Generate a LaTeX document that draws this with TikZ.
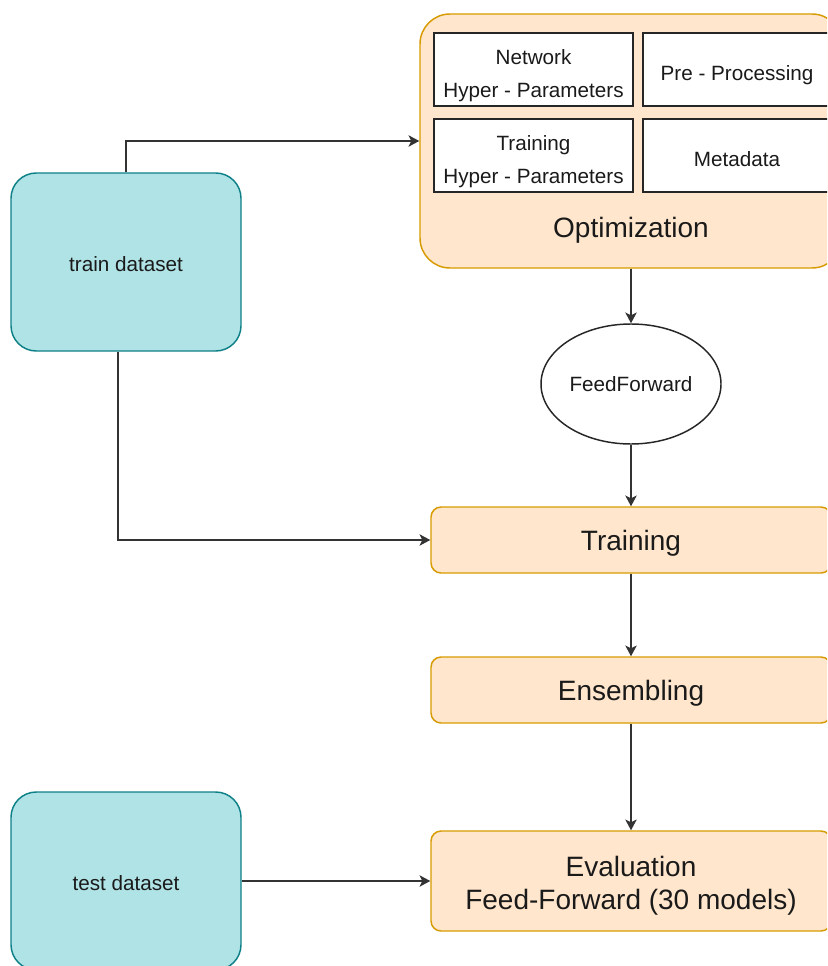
\documentclass[tikz,border=0pt]{standalone}
\usepackage{fontspec}
\setmainfont{Liberation Sans}
\usepackage{xcolor}
\usetikzlibrary{arrows.meta, shapes.geometric}
\definecolor{orangefill}{HTML}{FFE6CC}
\definecolor{orangeline}{HTML}{D79B00}
\definecolor{tealfill}{HTML}{B0E3E6}
\definecolor{tealline}{HTML}{0E8088}
\definecolor{txt}{HTML}{1A1A1A}

\begin{document}
\begin{tikzpicture}[x=0.75pt, y=-0.75pt, >={Stealth[length=8pt, width=8.5pt, inset=2pt]},
    small/.style={font=\fontsize{15.5}{24.8}\selectfont, text=txt, align=center},
    big/.style={font=\fontsize{21}{24.8}\selectfont, text=txt, align=center},
    databox/.style={small, draw=tealline, fill=tealfill, line width=1.1pt, rounded corners=19pt, minimum width=172.5pt, minimum height=133.5pt, text height=14.3pt, text depth=0pt},
    stepbox/.style={big, draw=orangeline, fill=orangefill, line width=1.1pt, rounded corners=7.5pt, minimum width=300pt, inner sep=0pt, text height=19.8pt, text depth=4.4pt},
    parambox/.style={small, draw=black!85, fill=white, line width=1.1pt, minimum height=54.75pt, inner sep=0pt, text height=19.5pt, text depth=3.3pt},
    twolines/.style={text height=45.1pt, text depth=3.3pt},
    link/.style={->, draw=black!80, line width=1.1pt}]

    % Frame
    \path[use as bounding box, clip] (0,0) rectangle (827,966);

    % Optimization
    \node[draw=orangeline, fill=orangefill, line width=1.1pt, rounded corners=22.5pt, minimum width=316.5pt, minimum height=190.5pt] (opt) at (631,141) {};
    \node[big] (optlabel) at (631,230) {Optimization};

    % Parameters
    \node[parambox, twolines, minimum width=149.25pt] (net) at (533.5,69.5) {Network\\Hyper - Parameters};
    \node[parambox, minimum width=141pt] (pre) at (737,69.5) {Pre - Processing};
    \node[parambox, twolines, minimum width=149.25pt] (trainhp) at (533.5,155.5) {Training\\Hyper - Parameters};
    \node[parambox, minimum width=141pt] (meta) at (737,155.5) {Metadata};

    % Datasets
    \node[databox] (train) at (126,262) {train dataset};
    \node[databox] (test) at (126,881) {test dataset};

    % FeedForward
    \node[ellipse, small, draw=black!85, fill=white, line width=1.1pt, minimum width=135pt, minimum height=90pt, inner sep=0pt] (ff) at (631,384) {FeedForward};

    % Steps
    \node[stepbox, minimum height=49.5pt] (training) at (631,540) {Training};
    \node[stepbox, minimum height=49.5pt] (ens) at (631,690) {Ensembling};
    \node[stepbox, minimum height=75pt, text height=47.3pt, text depth=4.4pt] (eval) at (631,881) {Evaluation\\Feed-Forward (30 models)};

    % Lines
    \draw[link] (train.north) |- (opt.west);
    \draw[link] ([xshift=-6pt]train.south) |- (training.west);
    \draw[link] (opt.south) -- (ff.north);
    \draw[link] (ff.south) -- (training.north);
    \draw[link] (training.south) -- (ens.north);
    \draw[link] (ens.south) -- (eval.north);
    \draw[link] (test.east) -- (eval.west);
\end{tikzpicture}
\end{document}
